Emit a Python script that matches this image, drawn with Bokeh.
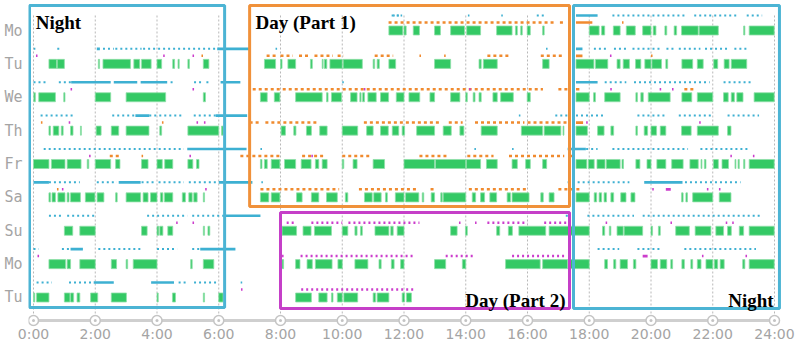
from bokeh.plotting import figure
from bokeh.models import Range1d, FixedTicker, ColumnDataSource, Label
from bokeh.embed import file_html
from bokeh.resources import INLINE

DAYS = ["Mo", "Tu", "We", "Th", "Fr", "Sa", "Su", "Mo", "Tu"]
HOUR_TICKS = [0, 2, 4, 6, 8, 10, 12, 14, 16, 18, 20, 22, 24]
HOUR_LABELS = ["0:00", "2:00", "4:00", "6:00", "8:00", "10:00", "12:00",
               "14:00", "16:00", "18:00", "20:00", "22:00", "24:00"]

# green activity intervals (hours), one list per row
ACTIVITY = [
    [(11.51, 11.96), (12.0, 12.07), (12.30, 12.50), (12.99, 13.18), (13.51, 13.96), (14.03, 14.48),
     (15.0, 15.5), (15.61, 15.67), (15.78, 15.83), (15.99, 16.09), (16.49, 16.54), (18.0, 18.32),
     (18.4, 18.5), (18.78, 19.0), (19.2, 19.49), (19.73, 20.0), (20.07, 20.16), (20.45, 20.51),
     (20.75, 20.83), (20.99, 21.53), (21.56, 22.18), (23.0, 23.04), (23.18, 23.99)],
    [(0.5, 0.75), (0.77, 1.0), (2.1, 2.14), (2.25, 3.14), (3.25, 3.44), (3.5, 3.81), (4.0, 4.15),
     (4.51, 4.57), (4.68, 4.72), (5.0, 5.05), (5.5, 5.68), (7.48, 7.84), (8.0, 8.05), (8.24, 8.49),
     (8.97, 9.03), (9.35, 9.38), (9.42, 9.5), (9.6, 10.0), (10.03, 10.65), (11.0, 11.05),
     (11.13, 11.2), (11.51, 11.73), (12.99, 13.51), (14.43, 14.5), (14.57, 15.02), (16.49, 16.7),
     (17.57, 18.15), (18.2, 18.6), (18.9, 19.0), (19.1, 19.3), (19.5, 19.67), (19.8, 20.0),
     (20.03, 20.34), (20.48, 20.54), (21.0, 21.35), (21.5, 21.69), (22.03, 22.16), (22.37, 22.53),
     (22.6, 23.1)],
    [(0.01, 0.06), (0.17, 0.71), (0.98, 1.02), (2.0, 2.5), (3.0, 4.28), (5.5, 5.57), (7.35, 7.57),
     (7.8, 7.98), (8.49, 9.35), (9.49, 9.54), (9.65, 9.98), (10.27, 10.48), (10.57, 10.61),
     (10.66, 10.72), (10.83, 11.1), (11.24, 11.5), (11.75, 12.0), (12.16, 12.51), (12.84, 12.99),
     (13.51, 13.81), (14.0, 14.05), (14.24, 14.3), (14.43, 14.5), (14.88, 15.02), (15.13, 15.54),
     (15.99, 16.09), (17.57, 18.0), (18.14, 18.2), (18.5, 19.0), (19.51, 19.56), (19.67, 19.75),
     (19.91, 20.62), (21.0, 21.32), (21.5, 22.0), (22.35, 22.5), (22.6, 22.7), (22.78, 22.98),
     (23.34, 23.99)],
    [(0.5, 0.55), (0.64, 0.82), (0.9, 0.96), (1.2, 1.28), (1.52, 1.55), (2.03, 2.19), (2.52, 2.76),
     (3.0, 3.74), (4.09, 4.15), (5.0, 6.0), (6.09, 6.14), (8.02, 8.16), (8.43, 8.5), (8.84, 9.0),
     (9.27, 9.51), (10.0, 10.5), (10.79, 11.0), (11.24, 11.49), (11.62, 11.83), (11.94, 12.02),
     (12.41, 12.99), (13.27, 13.53), (13.81, 13.94), (14.5, 15.02), (15.8, 16.49), (16.54, 17.08),
     (17.15, 17.18), (17.57, 17.94), (18.27, 18.48), (18.7, 18.79), (19.51, 19.56), (19.78, 19.89),
     (20.0, 20.18), (20.3, 20.48), (20.99, 21.3), (21.5, 22.18), (22.48, 22.59)],
    [(0.0, 0.5), (0.58, 1.02), (1.09, 1.54), (1.74, 1.79), (2.0, 2.5), (2.66, 2.8), (3.5, 3.71),
     (4.0, 4.17), (4.25, 4.51), (5.0, 5.16), (5.28, 5.36), (7.35, 7.4), (7.48, 7.57), (7.7, 7.98),
     (8.13, 8.49), (8.67, 8.99), (9.13, 9.24), (9.35, 9.51), (10.0, 10.05), (10.35, 10.48),
     (11.0, 11.37), (12.0, 12.99), (13.02, 14.0), (14.02, 14.48), (14.67, 15.02), (15.5, 15.67),
     (15.94, 16.09), (16.49, 16.62), (17.57, 17.92), (17.97, 18.16), (18.25, 18.51), (18.55, 19.0),
     (19.06, 19.11), (19.51, 19.64), (19.87, 20.0), (20.19, 20.48), (20.67, 21.04), (21.26, 21.53),
     (21.62, 21.65), (21.73, 21.78), (22.02, 22.18), (22.3, 22.51), (22.72, 22.75), (22.82, 22.86),
     (23.0, 23.04), (23.18, 23.99)],
    [(0.5, 0.55), (0.6, 0.71), (0.79, 1.02), (1.09, 1.15), (1.2, 1.52), (1.68, 1.99), (2.06, 2.28),
     (2.66, 2.71), (3.0, 3.47), (3.55, 3.71), (3.79, 4.0), (4.11, 4.19), (4.24, 4.51), (4.82, 4.92),
     (5.03, 5.14), (5.19, 5.3), (5.5, 5.54), (7.35, 7.62), (7.7, 7.98), (8.52, 8.7), (9.0, 9.24),
     (9.49, 9.84), (10.1, 10.18), (10.72, 10.97), (11.02, 11.26), (11.4, 11.46), (11.72, 12.0),
     (12.05, 12.48), (12.59, 12.64), (12.88, 12.99), (13.19, 13.24), (13.27, 14.0), (14.21, 14.32),
     (14.48, 14.61), (14.78, 15.0), (15.34, 15.45), (15.5, 16.05), (16.43, 16.51), (16.7, 16.86),
     (17.57, 18.0), (18.16, 18.24), (18.32, 18.4), (18.48, 18.56), (18.7, 18.79), (19.02, 19.19),
     (19.35, 19.48), (20.99, 21.04), (21.13, 21.18), (21.35, 22.0), (22.21, 22.59)],
    [(1.0, 1.27), (1.5, 2.0), (3.5, 3.68), (4.0, 4.06), (4.09, 4.19), (4.35, 4.51), (5.5, 5.54),
     (5.65, 5.71), (8.05, 8.52), (8.73, 8.99), (9.1, 9.65), (10.0, 10.18), (10.41, 10.48),
     (10.59, 10.65), (11.06, 11.51), (11.57, 11.65), (11.78, 12.0), (13.51, 13.72), (13.99, 14.05),
     (15.0, 15.1), (15.38, 15.51), (15.72, 16.59), (16.7, 18.0), (18.43, 18.5), (18.65, 18.7),
     (18.9, 19.1), (19.13, 19.73), (20.0, 20.05), (20.24, 20.3), (20.8, 21.24), (21.43, 21.94),
     (22.1, 22.35), (22.48, 22.6), (22.86, 23.0), (23.18, 23.99)],
    [(0.5, 1.04), (1.09, 1.2), (1.5, 2.0), (2.52, 2.69), (3.0, 3.05), (3.23, 4.0), (5.09, 5.14),
     (5.5, 5.84), (8.05, 8.1), (8.49, 8.63), (8.86, 9.03), (9.13, 9.67), (9.86, 10.0), (10.41, 10.83),
     (11.19, 11.26), (11.59, 11.68), (11.89, 12.0), (12.99, 13.35), (13.89, 14.0), (15.29, 16.41),
     (16.49, 17.3), (17.32, 18.0), (18.5, 18.59), (18.79, 18.86), (19.0, 19.24), (19.43, 19.51),
     (20.0, 20.21), (20.3, 20.51), (20.64, 20.7), (21.0, 21.08), (21.29, 21.35), (21.5, 21.62),
     (21.78, 22.0), (22.05, 22.16), (22.24, 22.37), (22.97, 23.04), (23.18, 23.99)],
    [(0.0, 0.04), (0.1, 0.5), (1.0, 1.18), (1.2, 1.3), (1.41, 1.5), (1.85, 2.08), (2.52, 3.01),
     (4.0, 4.04), (4.5, 4.6), (5.5, 5.54), (6.0, 6.14), (8.49, 9.0), (9.24, 9.51), (9.65, 9.7),
     (9.84, 10.0), (10.05, 10.5), (11.0, 11.08), (11.13, 11.51), (11.94, 12.02), (12.08, 12.24)],
]

# blue marks: dotted stretches, continuous stretches and single ticks
BLUE_DOTTED = [
    [(11.6, 11.9), (16.3, 16.6), (18.75, 21.1), (21.4, 22.85), (23.1, 23.6)],
    [(0.77, 0.85), (2.25, 2.6), (2.65, 3.5), (3.55, 5.95), (18.15, 18.6), (18.8, 19.25),
     (19.4, 20.3), (20.5, 20.75), (20.9, 21.6), (21.75, 22.5), (22.7, 23.1)],
    [(0.0, 0.39), (0.82, 1.22), (4.44, 4.6), (5.2, 5.45), (5.6, 5.7), (18.5, 19.2), (19.45, 21.9),
     (22.35, 23.3)],
    [(0.23, 1.3), (2.55, 3.3), (3.75, 4.87), (5.19, 5.9), (16.9, 17.3), (17.57, 18.54), (19.56, 20.5),
     (20.9, 21.95), (22.48, 23.5)],
    [(0.33, 4.87), (17.9, 18.27), (18.75, 21.2), (21.6, 23.15)],
    [(0.5, 1.5), (2.05, 2.7), (3.5, 3.95), (4.05, 4.87), (5.03, 5.95), (17.3, 19.3), (21.1, 22.9)],
    [(0.5, 0.98), (1.09, 2.05), (3.68, 4.98), (5.14, 6.17), (17.24, 17.4), (17.94, 19.45),
     (19.73, 23.55)],
    [(0.0, 0.17), (0.92, 1.2), (2.1, 3.47), (4.0, 4.65), (5.14, 5.4), (18.27, 18.97), (19.56, 20.32),
     (21.08, 23.4)],
    [(0.1, 0.6), (1.15, 1.95), (4.7, 5.0), (5.2, 5.95)],
]
BLUE_LINE = [
    [(17.57, 18.27)],
    [(2.05, 2.15), (5.95, 7.0), (17.57, 17.78)],
    [(1.22, 2.5), (2.6, 3.36), (3.47, 4.33), (6.06, 6.7), (17.57, 18.27)],
    [(3.3, 3.75), (5.9, 6.92)],
    [(4.98, 6.9), (17.3, 17.89)],
    [(0.0, 0.5), (2.76, 3.47), (6.0, 7.09), (19.78, 21.02)],
    [(6.17, 7.35)],
    [(1.2, 1.6), (5.4, 6.54)],
    [(1.95, 2.6), (3.81, 4.55)],
]
BLUE_TICKS = [
    [11.65, 11.78, 11.89, 14.07, 15.15],
    [0.01, 7.84, 16.6],
    [10.0],
    [15.72],
    [7.35, 14.28, 15.5],
    [7.38],
    [],
    [],
    [6.71],
]

ORANGE_DOTTED = [
    [(11.5, 16.85), (17.05, 17.2)],
    [(7.55, 7.89), (8.0, 8.4), (8.6, 8.9), (9.1, 9.7), (9.85, 10.05), (11.05, 11.65), (14.7, 15.45),
     (16.43, 17.13)],
    [(7.1, 16.5), (17.0, 17.35), (21.08, 21.4)],
    [(7.0, 7.3), (7.51, 9.24), (10.7, 13.2), (13.45, 13.9), (14.3, 15.9), (16.0, 17.4)],
    [(2.47, 2.82), (6.7, 7.98), (8.7, 9.4), (10.0, 10.9), (12.5, 13.4), (14.05, 14.9), (15.4, 17.19),
     (17.35, 17.5)],
    [(7.35, 9.9), (10.54, 12.43), (12.86, 12.97), (14.1, 16.0), (17.0, 17.7)],
    [], [], [],
]
ORANGE_LINE = [
    [(17.57, 18.1)],
    [(17.57, 17.78)],
    [(17.57, 17.68)],
    [(17.57, 17.8)],
    [], [], [], [], [],
]
ORANGE_TICKS = [
    [19.06],
    [5.44, 12.5, 13.3, 20.0],
    [],
    [0.24, 4.16],
    [3.5],
    [0.76],
    [], [], [],
]

MAGENTA_DOTTED = [
    [], [], [], [], [], [],
    [(8.2, 8.5), (9.0, 10.0), (10.2, 12.5), (14.7, 16.0), (16.54, 17.35)],
    [(8.65, 12.32), (13.35, 14.27), (15.5, 17.19)],
    [(8.67, 12.32)],
]
MAGENTA_LINE = [
    [], [], [], [], [],
    [(20.48, 20.64)],
    [],
    [(19.73, 19.89)],
    [],
]
MAGENTA_TICKS = [
    [],
    [0.08, 4.2, 5.15, 18.67],
    [1.2, 5.15, 10.7, 14.11, 18.68, 20.28, 20.68],
    [1.14, 5.28, 5.52, 17.9, 21.56],
    [1.8, 5.05, 9.0, 22.57, 23.3],
    [0.92, 5.56, 20.04, 21.81, 22.2],
    [4.62, 5.15, 13.78, 14.3, 18.53, 20.63, 22.42, 22.63],
    [0.13, 8.05, 21.65, 23.06],
    [6.72],
]

# annotation boxes: label, left, right, top, bottom (hours / row units), colour
BOXES = [
    ("Night", -0.13, 6.19, -0.75, 8.30, "#4cb4d4"),
    ("Day (Part 1)", 7.0, 17.36, -0.75, 5.27, "#f0913a"),
    ("Day (Part 2)", 8.0, 17.36, 5.45, 8.33, "#c53fc8"),
    ("Night", 17.49, 24.16, -0.75, 8.33, "#4cb4d4"),
]

GREEN = "#34c965"
BLUE = "#3db0d2"
ORANGE = "#f08a2e"
MAGENTA = "#cc3dcc"
GRAY = "#a4a4a4"

BLUE_OFF = -0.45
OTHER_OFF = -0.24
TICK_LEN = 0.05
AXIS_Y = 8.69
GRID_TOP = -0.45


def spans(rows, offset):
    x0, x1, y = [], [], []
    for i, row in enumerate(rows):
        for a, b in row:
            x0.append(a)
            x1.append(b)
            y.append(i + offset)
    return ColumnDataSource(dict(x0=x0, x1=x1, y=y))


def ticks(rows, offset):
    x0, x1, y = [], [], []
    for i, row in enumerate(rows):
        for t in row:
            x0.append(t)
            x1.append(t + TICK_LEN)
            y.append(i + offset)
    return ColumnDataSource(dict(x0=x0, x1=x1, y=y))


p = figure(frame_width=762, frame_height=326, output_backend="svg", toolbar_location=None, tools="",
           x_range=Range1d(-0.162, 24.518), y_range=Range1d(8.869, -0.899),
           min_border_left=28, min_border_right=7, min_border_top=0, min_border_bottom=14)
p.outline_line_color = None
p.xgrid.visible = False
p.ygrid.visible = False
p.background_fill_color = "white"
p.border_fill_color = "white"

# axes
p.xaxis.ticker = FixedTicker(ticks=HOUR_TICKS)
p.xaxis.major_label_overrides = {t: l for t, l in zip(HOUR_TICKS, HOUR_LABELS)}
p.xaxis.axis_line_color = None
p.xaxis.major_tick_line_color = None
p.xaxis.minor_tick_line_color = None
p.xaxis.major_tick_out = 0
p.xaxis.major_tick_in = 0
p.xaxis.minor_tick_out = 0
p.xaxis.major_label_standoff = -1
p.xaxis.major_label_text_font = "DejaVu Sans"
p.xaxis.major_label_text_font_size = "14px"
p.xaxis.major_label_text_color = GRAY

p.yaxis.ticker = FixedTicker(ticks=list(range(len(DAYS))))
p.yaxis.major_label_overrides = {i: d for i, d in enumerate(DAYS)}
p.yaxis.axis_line_color = None
p.yaxis.major_tick_line_color = None
p.yaxis.minor_tick_line_color = None
p.yaxis.major_tick_out = 0
p.yaxis.major_tick_in = 0
p.yaxis.minor_tick_out = 0
p.yaxis.major_label_standoff = 6
p.yaxis.major_label_text_font = "DejaVu Sans Mono"
p.yaxis.major_label_text_font_size = "15px"
p.yaxis.major_label_text_color = GRAY

# dotted vertical grid lines
p.segment(x0=HOUR_TICKS, y0=[GRID_TOP] * len(HOUR_TICKS), x1=HOUR_TICKS,
          y1=[AXIS_Y] * len(HOUR_TICKS), line_color="#b8b8b8", line_width=1, line_dash="2 2")

# activity bars
p.hbar(y="y", left="x0", right="x1", height=0.27, source=spans(ACTIVITY, 0),
       fill_color=GREEN, line_color="#8fe0a8", line_width=0.8)

# event marks
for src, col, dash, lw in [
    (spans(BLUE_DOTTED, BLUE_OFF), BLUE, "2 3", 2.0),
    (spans(BLUE_LINE, BLUE_OFF), BLUE, "solid", 2.6),
    (ticks(BLUE_TICKS, BLUE_OFF), BLUE, "solid", 2.0),
    (spans(ORANGE_DOTTED, OTHER_OFF), ORANGE, "3 3", 2.5),
    (spans(ORANGE_LINE, OTHER_OFF), ORANGE, "solid", 2.6),
    (ticks(ORANGE_TICKS, OTHER_OFF), ORANGE, "solid", 2.5),
    (spans(MAGENTA_DOTTED, OTHER_OFF), MAGENTA, "2 3", 2.5),
    (spans(MAGENTA_LINE, OTHER_OFF), MAGENTA, "solid", 2.6),
    (ticks(MAGENTA_TICKS, OTHER_OFF), MAGENTA, "solid", 2.5),
]:
    p.segment(x0="x0", y0="y", x1="x1", y1="y", source=src, line_color=col,
              line_width=lw, line_dash=dash, line_cap="butt")

# boxes
p.quad(left=[b[1] for b in BOXES], right=[b[2] for b in BOXES],
       top=[b[3] for b in BOXES], bottom=[b[4] for b in BOXES],
       fill_alpha=0, line_color=[b[5] for b in BOXES], line_width=3)

# box titles
label_style = dict(text_font="Liberation Serif", text_font_style="bold",
                   text_font_size="19px", text_color="black", text_baseline="alphabetic")
p.add_layout(Label(x=0.07, y=-0.24, text=BOXES[0][0], text_align="left", **label_style))
p.add_layout(Label(x=7.19, y=-0.24, text=BOXES[1][0], text_align="left", **label_style))
p.add_layout(Label(x=17.23, y=8.09, text=BOXES[2][0], text_align="right", **label_style))
p.add_layout(Label(x=23.97, y=8.09, text=BOXES[3][0], text_align="right", **label_style))

# time axis line with ring markers
p.segment(x0=[HOUR_TICKS[0]], y0=[AXIS_Y], x1=[HOUR_TICKS[-1]], y1=[AXIS_Y],
          line_color="#cfcfcf", line_width=3)
p.scatter(HOUR_TICKS, [AXIS_Y] * len(HOUR_TICKS), size=10, marker="circle",
          fill_color="white", line_color="#c4c4c4", line_width=1.5)
p.scatter(HOUR_TICKS, [AXIS_Y] * len(HOUR_TICKS), size=3, marker="circle",
          fill_color="#c4c4c4", line_color=None)

open("out.html", "w").write(file_html(p, INLINE))
